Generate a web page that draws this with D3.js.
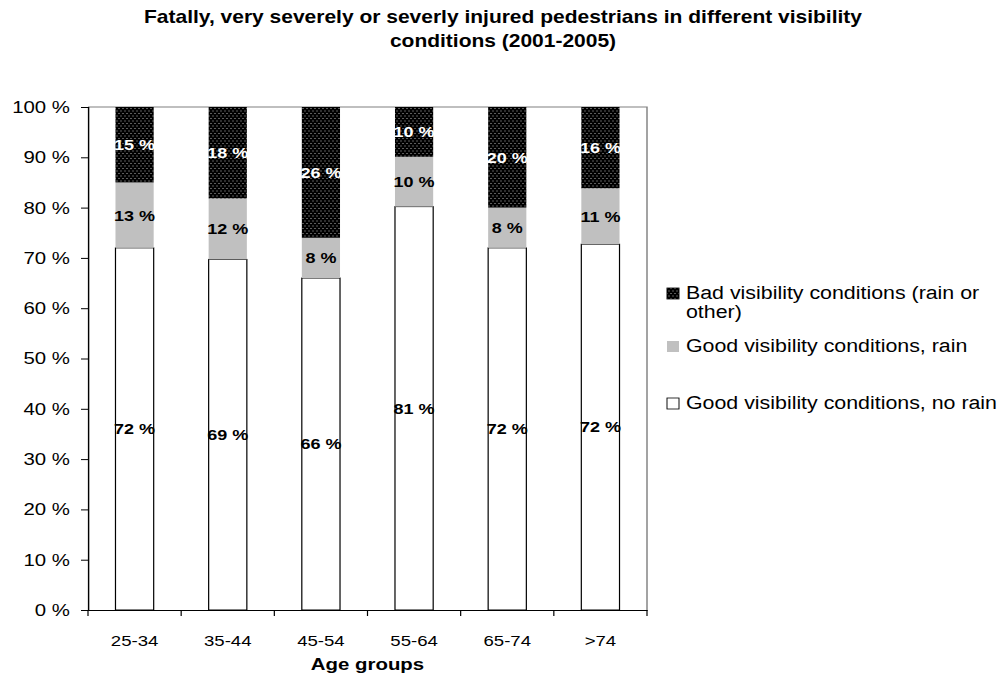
<!DOCTYPE html>
<html>
<head>
<meta charset="utf-8">
<script src="https://cdn.jsdelivr.net/npm/d3@7"></script>
<style>
  html, body { margin: 0; padding: 0; background: #fff; }
  svg { display: block; font-family: Arial, "Liberation Sans", sans-serif; }
</style>
</head>
<body>
<svg id="chart"></svg>
<script>
// Age groups on the x axis
const ageGroups = ["25-34", "35-44", "45-54", "55-64", "65-74", ">74"];

// Share of injured pedestrians per visibility condition (%)
const goodNoRain = [72, 69, 66, 81, 72, 72];
const goodRain   = [13, 12,  8, 10,  8, 11];
const badVisibility = [15, 18, 26, 10, 20, 16];

const yTicks = [0, 0.1, 0.2, 0.3, 0.4, 0.5, 0.6, 0.7, 0.8, 0.9, 1];

const titleLines = [
  "Fatally, very severely or severly injured pedestrians in different visibility",
  "conditions (2001-2005)"
];
const xTitle = "Age groups";

// The drawing is laid out on a slightly narrower canvas and stretched to the window width.
const WIDTH = 1006, HEIGHT = 686, SX = 1.2;
const X = v => v / SX;

const svg = d3.select("#chart")
  .attr("width", WIDTH)
  .attr("height", HEIGHT)
  .attr("viewBox", `0 0 ${WIDTH / SX} ${HEIGHT}`)
  .attr("preserveAspectRatio", "none");

const plot = { left: X(88), right: X(647), top: 107, bottom: 610 };

// dotted fill for the bad-visibility segments
const defs = svg.append("defs");
const pat = defs.append("pattern")
  .attr("id", "dots")
  .attr("patternUnits", "userSpaceOnUse")
  .attr("width", X(4)).attr("height", 5);
pat.append("rect").attr("width", X(4)).attr("height", 5).attr("fill", "#000");
pat.append("rect").attr("x", X(0.5)).attr("y", 0.5).attr("width", X(1)).attr("height", 1).attr("fill", "#b8b8b8");
pat.append("rect").attr("x", X(2.5)).attr("y", 3).attr("width", X(1)).attr("height", 1).attr("fill", "#b8b8b8");

const rows = ageGroups.map((g, i) => ({
  group: g,
  noRain: goodNoRain[i],
  rain: goodRain[i],
  bad: badVisibility[i]
}));
const keys = ["noRain", "rain", "bad"];
const stacked = d3.stack().keys(keys).offset(d3.stackOffsetExpand)(rows);

const x = d3.scaleBand()
  .domain(ageGroups)
  .range([plot.left, plot.right])
  .paddingInner(0.59)
  .paddingOuter(0.295);

const y = d3.scaleLinear().domain([0, 1]).range([plot.bottom, plot.top]);

const fills = { noRain: "#ffffff", rain: "#c0c0c0", bad: "url(#dots)" };
const labelColor = { noRain: "#000", rain: "#000", bad: "#fff" };

// plot frame (top and right in grey)
svg.append("path")
  .attr("d", `M${plot.left},${plot.top}H${plot.right}V${plot.bottom}`)
  .attr("fill", "none").attr("stroke", "#808080").attr("stroke-width", 1.2);

// stacked bars
const layers = svg.append("g").selectAll("g")
  .data(stacked).join("g");

layers.selectAll("rect")
  .data(s => s.map(d => ({ key: s.key, d })))
  .join("rect")
  .attr("x", p => x(p.d.data.group))
  .attr("width", x.bandwidth())
  .attr("y", p => y(p.d[1]))
  .attr("height", p => y(p.d[0]) - y(p.d[1]))
  .attr("fill", p => fills[p.key])
  .attr("stroke", p => p.key === "noRain" ? "#000" : "none")
  .attr("stroke-width", 1);

// value labels
layers.selectAll("text")
  .data(s => s.map(d => ({ key: s.key, d })))
  .join("text")
  .attr("x", p => x(p.d.data.group) + x.bandwidth() / 2)
  .attr("y", p => y((p.d[0] + p.d[1]) / 2))
  .attr("dy", "0.36em")
  .attr("text-anchor", "middle")
  .attr("font-size", 15)
  .attr("font-weight", "bold")
  .attr("fill", p => labelColor[p.key])
  .text(p => p.d.data[p.key] + " %");

// y axis
const yAxis = svg.append("g")
  .attr("transform", `translate(${plot.left},0)`)
  .call(d3.axisLeft(y).tickValues(yTicks).tickSize(X(7)).tickPadding(X(11))
    .tickFormat(d => Math.round(d * 100) + " %"));
yAxis.select(".domain").attr("stroke", "#000").attr("stroke-width", 1.2);
yAxis.selectAll(".tick line").attr("stroke", "#000").attr("stroke-width", 1);
yAxis.selectAll("text").attr("font-size", 17).attr("fill", "#000")
  .attr("font-family", "Arial, 'Liberation Sans', sans-serif");

// x axis: line, category boundary ticks, centred labels
const xAxis = svg.append("g")
  .attr("transform", `translate(0,${plot.bottom})`)
  .call(d3.axisBottom(x).tickSize(0).tickPadding(25));
xAxis.select(".domain").attr("stroke", "#000").attr("stroke-width", 1);
xAxis.selectAll("text").attr("font-size", 15.5).attr("fill", "#000")
  .attr("font-family", "Arial, 'Liberation Sans', sans-serif");

const bounds = d3.range(ageGroups.length + 1).map(i => plot.left + i * x.step());
xAxis.selectAll(".bound")
  .data(bounds).join("line")
  .attr("class", "bound")
  .attr("x1", d => d).attr("x2", d => d)
  .attr("y1", 0).attr("y2", 6)
  .attr("stroke", "#000").attr("stroke-width", 1);

// axis title
svg.append("text")
  .attr("x", (plot.left + plot.right) / 2)
  .attr("y", 670)
  .attr("text-anchor", "middle")
  .attr("font-size", 17)
  .attr("font-weight", "bold")
  .text(xTitle);

// chart title
svg.append("g").selectAll("text")
  .data(titleLines).join("text")
  .attr("x", X(503))
  .attr("y", (d, i) => 23 + i * 24)
  .attr("text-anchor", "middle")
  .attr("font-size", 17.5)
  .attr("font-weight", "bold")
  .text(d => d);

// legend
const legendItems = [
  { key: "bad", lines: ["Bad visibility conditions (rain or", "other)"], y: 299 },
  { key: "rain", lines: ["Good visibility conditions, rain"], y: 352 },
  { key: "noRain", lines: ["Good visibility conditions, no rain"], y: 409 }
];
const legend = svg.append("g");
const li = legend.selectAll("g").data(legendItems).join("g");
li.append("rect")
  .attr("x", X(667))
  .attr("y", d => d.y - 11)
  .attr("width", X(12))
  .attr("height", 11)
  .attr("fill", d => fills[d.key])
  .attr("stroke", d => d.key === "rain" ? "none" : "#000")
  .attr("stroke-width", 0.8);
li.selectAll("text")
  .data(d => d.lines.map((t, j) => ({ t, y: d.y + j * 19 })))
  .join("text")
  .attr("x", X(686))
  .attr("y", d => d.y)
  .attr("font-size", 17.8)
  .text(d => d.t);
</script>
</body>
</html>
